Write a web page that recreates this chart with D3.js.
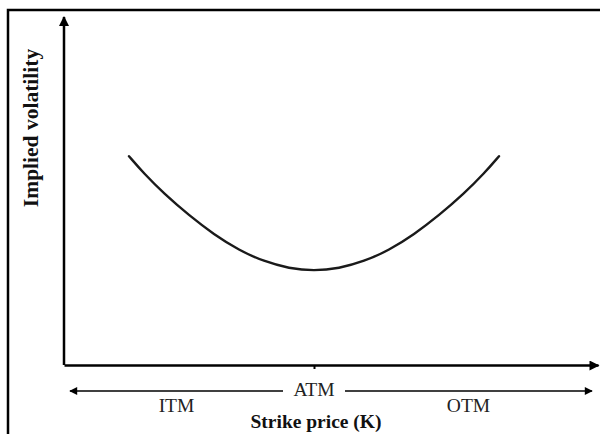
<!DOCTYPE html>
<html>
<head>
<meta charset="utf-8">
<script src="https://cdn.jsdelivr.net/npm/d3@7"></script>
<style>
  body { margin: 0; background: #fff; }
  svg { display: block; font-family: "Liberation Serif", "Times New Roman", serif; }
</style>
</head>
<body>
<svg width="600" height="434"></svg>
<script>
const strikes = [63, 66, 70, 75, 80, 85, 90, 95, 100, 105, 110, 115, 120, 125, 130, 134, 137];
const vols    = [24.0, 22.0, 19.7, 17.2, 15.0, 13.2, 11.9, 11.1, 10.8, 11.1, 11.9, 13.2, 15.0, 17.2, 19.7, 22.0, 24.0];

// moneyness zones under the x axis
const zoneNames = ['ITM', 'OTM'];
const zoneFrom  = [93.8, 106.2];
const zoneTo    = [51.2, 155.6];
const atmStrike = 100;

const svg = d3.select('svg');

const x = d3.scaleLinear().domain([50, 156.8]).range([64, 598]);
const y = d3.scaleLinear().domain([0, 40]).range([365, 17]);

// arrow heads
const defs = svg.append('defs');
defs.append('marker')
  .attr('id', 'arrow')
  .attr('viewBox', '0 0 10 10')
  .attr('refX', 9).attr('refY', 5)
  .attr('markerWidth', 4.4).attr('markerHeight', 4)
  .attr('markerUnits', 'strokeWidth')
  .attr('orient', 'auto')
  .append('path')
  .attr('d', 'M0,0L10,5L0,10z')
  .attr('fill', '#000');
defs.append('marker')
  .attr('id', 'arrowSmall')
  .attr('viewBox', '0 0 10 10')
  .attr('refX', 9).attr('refY', 5)
  .attr('markerWidth', 5.5).attr('markerHeight', 5)
  .attr('markerUnits', 'strokeWidth')
  .attr('orient', 'auto')
  .append('path')
  .attr('d', 'M0,0L10,5L0,10z')
  .attr('fill', '#000');

// frame (cropped at right and bottom)
svg.append('path')
  .attr('d', 'M8,434V10H600')
  .attr('fill', 'none')
  .attr('stroke', '#000')
  .attr('stroke-width', 2.5);

// x axis with a single ATM tick
const xAxis = svg.append('g')
  .attr('transform', `translate(0,${y(0)})`)
  .call(d3.axisBottom(x).tickValues([atmStrike]).tickFormat('').tickSize(4).tickSizeOuter(0));
xAxis.select('.domain')
  .attr('stroke', '#000').attr('stroke-width', 2.5)
  .attr('marker-end', 'url(#arrow)');
xAxis.selectAll('.tick line').attr('stroke', '#000').attr('stroke-width', 2);

// y axis, no ticks
const yAxis = svg.append('g')
  .attr('transform', `translate(${x(50)},0)`)
  .call(d3.axisLeft(y).tickValues([]).tickSizeOuter(0));
yAxis.select('.domain')
  .attr('d', `M0,${y(0)}V${y(40)}`)
  .attr('stroke', '#000').attr('stroke-width', 2.5)
  .attr('marker-end', 'url(#arrow)');

// volatility smile
const line = d3.line()
  .x((d, i) => x(strikes[i]))
  .y(d => y(d))
  .curve(d3.curveBasis);

svg.append('path')
  .datum(vols)
  .attr('d', line)
  .attr('fill', 'none')
  .attr('stroke', '#1a1a1a')
  .attr('stroke-width', 2.4)
  .attr('stroke-linecap', 'round');

// zone arrows and labels
const zoneY = 391;
zoneNames.forEach((name, i) => {
  svg.append('line')
    .attr('x1', x(zoneFrom[i])).attr('x2', x(zoneTo[i]))
    .attr('y1', zoneY).attr('y2', zoneY)
    .attr('stroke', '#000').attr('stroke-width', 1.6)
    .attr('marker-end', 'url(#arrowSmall)');
  svg.append('text')
    .attr('x', (x(zoneFrom[i]) + x(zoneTo[i])) / 2)
    .attr('y', 412)
    .attr('text-anchor', 'middle')
    .attr('font-size', 19.5)
    .attr('fill', '#222')
    .text(name);
});

svg.append('text')
  .attr('x', x(atmStrike))
  .attr('y', 396)
  .attr('text-anchor', 'middle')
  .attr('font-size', 19.5)
  .attr('fill', '#222')
  .text('ATM');

svg.append('text')
  .attr('x', x(atmStrike) + 2)
  .attr('y', 428)
  .attr('text-anchor', 'middle')
  .attr('font-size', 19.5)
  .attr('font-weight', 'bold')
  .attr('fill', '#111')
  .text('Strike price (K)');

svg.append('text')
  .attr('transform', 'translate(38,128) rotate(-90)')
  .attr('text-anchor', 'middle')
  .attr('font-size', 21.5)
  .attr('font-weight', 'bold')
  .attr('fill', '#111')
  .text('Implied volatility');
</script>
</body>
</html>
